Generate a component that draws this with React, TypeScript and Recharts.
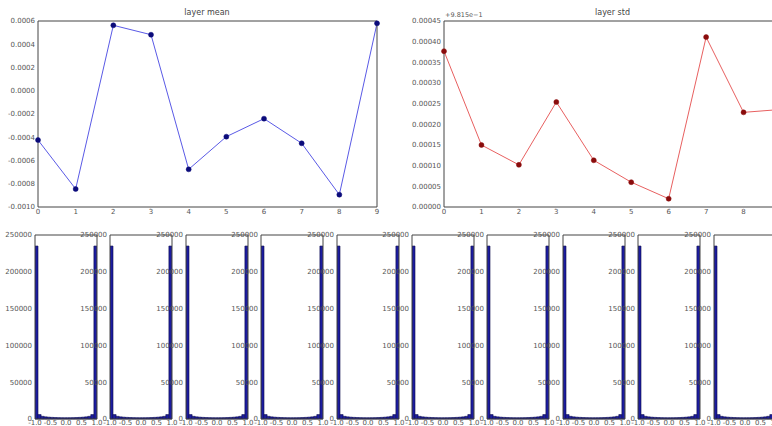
import { LineChart, Line, BarChart, Bar, XAxis, YAxis } from 'recharts';

const layers = [0, 1, 2, 3, 4, 5, 6, 7, 8, 9];
const layerMean = [-0.000424, -0.000845, 0.000563, 0.000482, -0.000676, -0.000395, -0.00024, -0.000452, -0.000894, 0.00058];
// values shown relative to the axis offset of +9.815e-1
const layerStd = [0.000377, 0.00015, 0.000102, 0.000254, 0.000113, 0.00006, 0.00002, 0.000411, 0.000229, 0.000236];

const meanTicks = [-0.001, -0.0008, -0.0006, -0.0004, -0.0002, 0, 0.0002, 0.0004, 0.0006];
const stdTicks = [0, 0.00005, 0.0001, 0.00015, 0.0002, 0.00025, 0.0003, 0.00035, 0.0004, 0.00045];

const histBins = [-0.95, -0.85, -0.75, -0.65, -0.55, -0.45, -0.35, -0.25, -0.15, -0.05, 0.05, 0.15, 0.25, 0.35, 0.45, 0.55, 0.65, 0.75, 0.85, 0.95];
const histCounts = [235000, 6000, 3600, 2900, 2500, 2200, 2000, 1850, 1750, 1700, 1700, 1750, 1850, 2000, 2200, 2500, 2900, 3600, 6000, 235000];
const histXTicks = [-1, -0.5, 0, 0.5, 1];
const histYTicks = [0, 50000, 100000, 150000, 200000, 250000];

const meanData = layers.map((l, i) => ({ layer: l, value: layerMean[i] }));
const stdData = layers.map((l, i) => ({ layer: l, value: layerStd[i] }));
const histData = histBins.map((b, i) => ({ bin: b, count: histCounts[i] }));

const FONT = '"DejaVu Sans", sans-serif';
const tickStyle = { fontSize: 7, fill: '#555', fontFamily: FONT };
const frame = '#444';

export default function App() {
  return (
    <div style={{ position: 'absolute', left: 0, top: 0, width: 772, height: 426, overflow: 'hidden', background: '#fff', fontFamily: FONT }}>
      {/* layer mean */}
      <div style={{ position: 'absolute', left: 0, top: 0 }}>
        <div style={{ position: 'absolute', left: 38, width: 338, top: 8, textAlign: 'center', fontSize: 8, color: '#444' }}>layer mean</div>
        <LineChart width={390} height={225} data={meanData} margin={{ top: 20, right: 12, left: 0, bottom: 0 }}>
          <XAxis dataKey="layer" type="number" domain={[0, 9]} ticks={layers} tick={tickStyle} tickLine={false} tickSize={0} tickMargin={2} height={18} stroke={frame} interval={0} />
          <XAxis xAxisId="top" orientation="top" type="number" domain={[0, 9]} ticks={layers} tick={false} tickLine={false} height={1} stroke={frame} />
          <YAxis type="number" domain={[-0.001, 0.0006]} ticks={meanTicks} tick={tickStyle} tickLine={false} tickSize={0} tickMargin={3} width={38} stroke={frame} interval={0} tickFormatter={(v: number) => v.toFixed(4)} />
          <YAxis yAxisId="right" orientation="right" type="number" domain={[-0.001, 0.0006]} ticks={meanTicks} tick={false} tickLine={false} width={1} stroke={frame} />
          <Line type="linear" dataKey="value" stroke="#5a5ae6" strokeWidth={1} dot={{ r: 2.5, fill: '#0b0b7a', stroke: '#0b0b7a', strokeWidth: 0.5 }} isAnimationActive={false} />
        </LineChart>
      </div>

      {/* layer std */}
      <div style={{ position: 'absolute', left: 385, top: 0 }}>
        <div style={{ position: 'absolute', left: 59, width: 337, top: 8, textAlign: 'center', fontSize: 8, color: '#444' }}>layer std</div>
        <div style={{ position: 'absolute', left: 60, top: 11, fontSize: 6.5, color: '#555' }}>+9.815e−1</div>
        <LineChart width={409} height={225} data={stdData} margin={{ top: 20, right: 13, left: 0, bottom: 0 }}>
          <XAxis dataKey="layer" type="number" domain={[0, 9]} ticks={layers} tick={tickStyle} tickLine={false} tickSize={0} tickMargin={2} height={18} stroke={frame} interval={0} />
          <XAxis xAxisId="top" orientation="top" type="number" domain={[0, 9]} ticks={layers} tick={false} tickLine={false} height={1} stroke={frame} />
          <YAxis type="number" domain={[0, 0.00045]} ticks={stdTicks} tick={tickStyle} tickLine={false} tickSize={0} tickMargin={3} width={59} stroke={frame} interval={0} tickFormatter={(v: number) => v.toFixed(5)} />
          <Line type="linear" dataKey="value" stroke="#e86060" strokeWidth={1} dot={{ r: 2.5, fill: '#8a0c0c', stroke: '#8a0c0c', strokeWidth: 0.5 }} isAnimationActive={false} />
        </LineChart>
      </div>

      {/* weight histograms, one per layer */}
      {layers.map((l) => (
        <div key={l} style={{ position: 'absolute', left: Math.round(75.4 * l), top: 225 }}>
          <BarChart width={104} height={210} data={histData} margin={{ top: 9, right: 6, left: 0, bottom: 0 }} barCategoryGap={0} barGap={0}>
            <XAxis dataKey="bin" type="number" domain={[-1, 1]} allowDataOverflow ticks={histXTicks} tick={tickStyle} tickLine={false} tickSize={0} tickMargin={1} height={16} stroke={frame} interval={0} tickFormatter={(v: number) => v.toFixed(1)} />
            <XAxis xAxisId="top" orientation="top" type="number" domain={[-1, 1]} allowDataOverflow ticks={histXTicks} tick={false} tickLine={false} height={1} stroke={frame} />
            <YAxis type="number" domain={[0, 250000]} ticks={histYTicks} tick={tickStyle} tickLine={false} tickSize={0} tickMargin={3} width={35} stroke={frame} interval={0} />
            <YAxis yAxisId="right" orientation="right" type="number" domain={[0, 250000]} ticks={histYTicks} tick={false} tickLine={false} width={1} stroke={frame} />
            <Bar dataKey="count" fill="#1c1ca0" stroke="#0a0a4a" strokeWidth={0.6} isAnimationActive={false} />
          </BarChart>
        </div>
      ))}
    </div>
  );
}
